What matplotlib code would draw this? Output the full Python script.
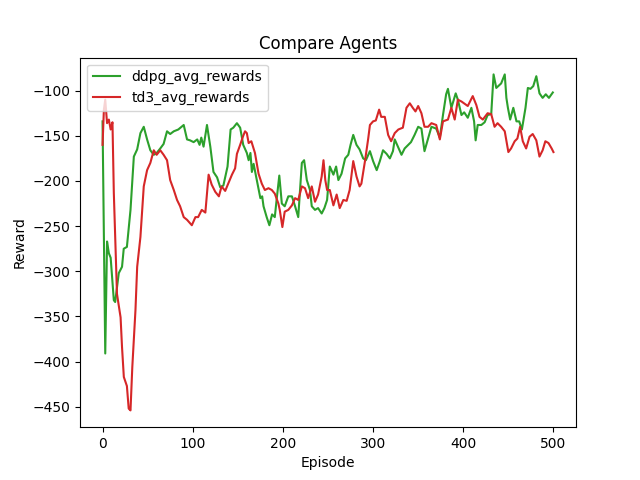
import matplotlib
matplotlib.use('Agg')
import matplotlib.pyplot as plt

# episodes / rewards
ddpg_episodes = [0, 3, 5, 7, 9, 12.5, 14, 18, 21.6, 23.5,
                 27, 31, 34.7, 38.4, 42, 45.7, 49.4, 53, 56.8, 60,
                 64, 67.7, 71.5, 75, 79, 84, 90, 93.7, 97, 101,
                 105, 107.6, 109.5, 112, 115.8, 119.5, 123, 127, 130.5, 134,
                 138.6, 142, 145, 149, 152.6, 156, 160, 162, 164, 165.6,
                 167.5, 171, 175, 177, 178.5, 182, 185, 188, 191, 193,
                 196, 198.8, 202, 206, 210, 213.5, 217, 221, 223.5, 226.5,
                 230, 232, 235.6, 239, 243, 246, 249, 252, 256, 259,
                 261.5, 265, 269, 272.5, 275, 278, 281.6, 285, 289, 292,
                 296.5, 300, 304, 307.5, 311, 315, 318.6, 322, 324, 328,
                 331.5, 335, 339, 342, 346, 350, 353.6, 357, 361, 364.7,
                 370, 374, 377.5, 381, 383, 386.8, 391.6, 394, 398, 401,
                 405, 409, 412, 413.7, 416, 420, 423.7, 427, 431, 433.6,
                 436.6, 442, 446, 447.8, 449.5, 452, 455.5, 459, 462, 465,
                 469, 471.6, 474.5, 477.6, 481, 484.5, 488, 491.5, 495, 499.3]
ddpg_avg_rewards = [-134, -391, -267, -280, -285, -332, -334, -302, -295, -275,
                    -273, -232, -173, -165, -147, -140, -154, -166, -171, -169,
                    -164, -159, -145, -148, -145, -143, -138, -154, -155, -157,
                    -154, -160, -152, -162, -138, -162, -190, -196, -207, -205,
                    -184, -143, -141, -136, -141, -160, -169, -177, -169, -190,
                    -181, -199, -219, -217, -228, -240, -249, -237, -240, -221,
                    -194, -225, -228, -217, -217, -228, -240, -180, -177, -199,
                    -210, -228, -232, -230, -236, -230, -221, -184, -193, -184,
                    -199, -192, -175, -171, -160, -149, -160, -165, -175, -177,
                    -167, -178, -188, -178, -166, -170, -175, -167, -154, -163,
                    -171, -164, -160, -157, -149, -140, -142, -167, -153, -140,
                    -142, -152, -127, -104, -98, -119, -103, -110, -127, -124,
                    -130, -119, -134, -155, -138, -138, -135, -127, -126, -82,
                    -97, -92, -82, -108, -119, -132, -119, -134, -134, -143,
                    -119, -97, -98, -95, -84, -103, -108, -104, -108, -102]

td3_episodes = [0, 1.5, 3, 5, 7, 9, 11, 12.5, 16, 20,
                21.6, 23.6, 27, 29, 31, 33, 36.5, 38.4, 42, 45.7,
                49.4, 53, 56.8, 60, 64, 67.7, 71.5, 75, 79, 82.6,
                86, 90, 93.7, 99, 103, 106, 110, 114, 117.6, 121,
                125, 129, 132, 136, 139.7, 143.5, 147, 149, 152.6, 156,
                158, 160, 162, 165, 169, 173, 176.6, 180, 184, 187.7,
                191, 195, 196.5, 199.4, 202, 206, 210, 213.5, 217, 221,
                224.5, 228, 232, 235.6, 239, 243, 245, 247, 249, 252,
                256, 259.6, 263, 267, 270.7, 274, 278, 281.6, 285, 287,
                291, 294.6, 296.5, 300, 303, 306.7, 309, 313, 316.7, 320,
                324, 328, 333, 337, 340.7, 344, 347, 350, 353.6, 357,
                361, 364.7, 370, 374, 377.5, 383, 386.8, 390.5, 394, 398,
                405, 410.5, 414.5, 418, 421.7, 427, 431, 434.7, 438, 442,
                446, 450, 453, 457, 460, 463, 466, 469.7, 473.5, 477,
                481, 484.5, 488, 491, 494.5, 498, 500]
td3_avg_rewards = [-160, -121, -110, -136, -132, -143, -135, -213, -325, -351,
                   -384, -417, -427, -452, -454, -406, -343, -295, -262, -206,
                   -188, -180, -166, -171, -166, -171, -177, -199, -210, -221,
                   -228, -240, -243, -249, -240, -240, -232, -235, -193, -204,
                   -212, -217, -206, -211, -202, -193, -186, -170, -160, -150,
                   -145, -147, -158, -156, -169, -192, -203, -210, -208, -210,
                   -214, -225, -232, -251, -234, -232, -227, -219, -221, -206,
                   -208, -219, -206, -223, -215, -195, -177, -199, -210, -210,
                   -227, -215, -230, -221, -222, -210, -178, -195, -206, -203,
                   -178, -153, -138, -134, -133, -121, -129, -129, -149, -156,
                   -147, -143, -141, -119, -114, -119, -123, -117, -125, -140,
                   -140, -136, -138, -154, -134, -132, -119, -132, -110, -112,
                   -117, -106, -116, -129, -132, -125, -126, -140, -136, -140,
                   -145, -168, -164, -156, -153, -140, -156, -164, -151, -148,
                   -155, -173, -166, -156, -158, -164, -168]

fig = plt.figure(figsize=(6.4, 4.8), dpi=100)

plt.plot(ddpg_episodes, ddpg_avg_rewards, color='tab:green', label='ddpg_avg_rewards')
plt.plot(td3_episodes, td3_avg_rewards, color='tab:red', label='td3_avg_rewards')
plt.legend(loc='upper left')
plt.title("Compare Agents")
plt.xlabel("Episode")
plt.ylabel("Reward")

plt.savefig('out.png')
